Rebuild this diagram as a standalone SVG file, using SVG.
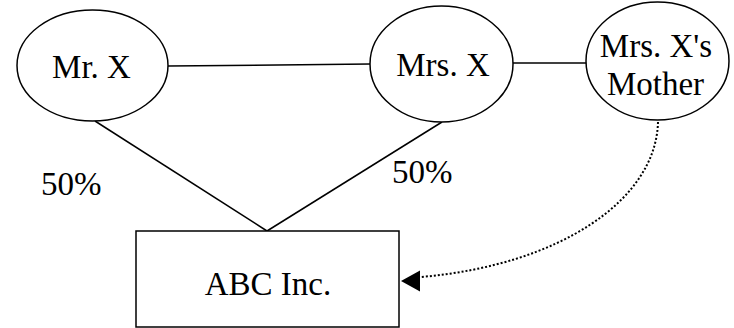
<svg xmlns="http://www.w3.org/2000/svg" width="734" height="328" viewBox="0 0 734 328">
<defs>
<style>
.n{fill:#fff;stroke:#000;stroke-width:1.5}
.t{font-family:"Liberation Serif","Times New Roman",serif;font-size:33px;fill:#000}
.m{text-anchor:middle}
.c{stroke:#000;stroke-width:1.5;fill:none}
.d{stroke:#000;stroke-width:2;fill:none;stroke-dasharray:2 2}
</style>
</defs>
<rect width="734" height="328" fill="#fff"/>
<g id="connectors">
<line class="c" x1="168" y1="66" x2="370" y2="64"/>
<line class="c" x1="513" y1="63" x2="586" y2="63"/>
<line class="c" x1="95" y1="121" x2="267" y2="231"/>
<line class="c" x1="442" y1="122" x2="267" y2="231"/>
<path class="d" d="M658,122 C656,200 560,265 421,277"/>
<path d="M401,281 L420,270.5 L420,291.5 Z" fill="#000"/>
</g>
<g id="mrx">
<ellipse class="n" cx="92.5" cy="65.5" rx="75.5" ry="55.5"/>
<text class="t m" x="91.5" y="78">Mr. X</text>
</g>
<g id="mrsx">
<ellipse class="n" cx="441.5" cy="64" rx="71.5" ry="58"/>
<text class="t m" x="443" y="76">Mrs. X</text>
</g>
<g id="mother">
<ellipse class="n" cx="657.5" cy="61" rx="71.5" ry="59"/>
<text class="t m" x="656" y="57">Mrs. X's</text>
<text class="t m" x="655.5" y="95">Mother</text>
</g>
<g id="abc">
<rect class="n" x="136" y="231" width="263" height="96"/>
<text class="t m" x="268" y="295">ABC Inc.</text>
</g>
<g id="labels">
<text class="t" x="41" y="195">50%</text>
<text class="t" x="392" y="183">50%</text>
</g>
</svg>
